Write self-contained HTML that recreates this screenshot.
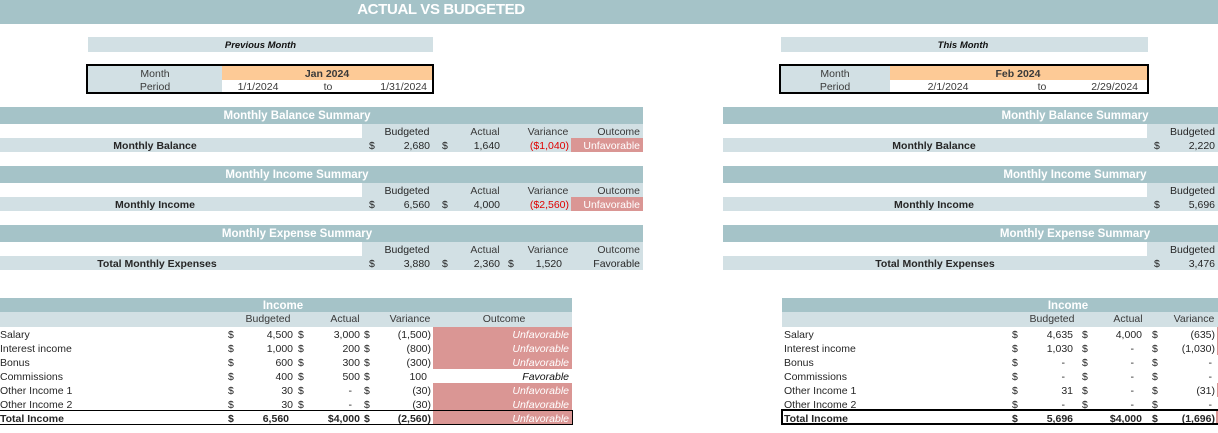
<!DOCTYPE html>
<html><head><meta charset="utf-8">
<style>
*{margin:0;padding:0;box-sizing:border-box}
body{width:1218px;height:433px;overflow:hidden;background:#fff;position:relative;font-family:"Liberation Sans",Arial,sans-serif;font-size:10.5px;color:#262626}
.a{position:absolute;white-space:nowrap}
.bn{background:#A5C3C8}
.lb{background:#D2E0E4}
.or{background:#FDCA96}
.pk{background:#DA9694}
.hd{color:#fff;font-weight:bold;font-size:11.5px;text-align:center;margin-top:1px}
.r{text-align:right}
.c{text-align:center}
.b{font-weight:bold}
.h14{line-height:14px;margin-top:1px}
.m1{margin-top:1px}
.uf{color:#fff;font-style:italic}
.red{color:#e00000}
.g{color:#3a3a3a}
</style></head><body>

<!-- Title banner -->
<div class="a bn" style="left:0;top:0;width:1218px;height:24px"></div>
<div class="a hd" style="left:241px;top:0;width:400px;line-height:24px;font-size:15px;letter-spacing:-0.35px;margin-top:-2px">ACTUAL VS BUDGETED</div>

<!-- Previous month -->
<div class="a lb" style="left:88px;top:37px;width:345px;height:15px"></div>
<div class="a c m1" style="left:88px;top:37px;width:345px;line-height:15px;font-weight:bold;font-style:italic;font-size:9.5px;color:#111">Previous Month</div>
<div class="a lb" style="left:88px;top:66px;width:134px;height:26px"></div>
<div class="a or" style="left:222px;top:66px;width:210px;height:14px"></div>
<div class="a" style="left:86px;top:64px;width:348px;height:30px;border:2px solid #000"></div>
<div class="a c g m1" style="left:88px;top:66px;width:134px;line-height:14px">Month</div>
<div class="a c g m1" style="left:88px;top:80px;width:134px;line-height:12px">Period</div>
<div class="a c b g m1" style="left:222px;top:66px;width:210px;line-height:14px">Jan 2024</div>
<div class="a c g m1" style="left:218px;top:80px;width:80px;line-height:13px">1/1/2024</div>
<div class="a c g m1" style="left:308px;top:80px;width:40px;line-height:13px">to</div>
<div class="a r g m1" style="left:355px;top:80px;width:72px;line-height:13px">1/31/2024</div>

<!-- This month -->
<div class="a lb" style="left:781px;top:37px;width:367px;height:15px"></div>
<div class="a c m1" style="left:781px;top:37px;width:364px;line-height:15px;font-weight:bold;font-style:italic;font-size:9.5px;color:#111">This Month</div>
<div class="a lb" style="left:781px;top:66px;width:109px;height:26px"></div>
<div class="a or" style="left:890px;top:66px;width:257px;height:14px"></div>
<div class="a" style="left:779px;top:64px;width:370px;height:30px;border:2px solid #000"></div>
<div class="a c g m1" style="left:785px;top:66px;width:100px;line-height:14px">Month</div>
<div class="a c g m1" style="left:785px;top:80px;width:100px;line-height:12px">Period</div>
<div class="a c b g m1" style="left:918px;top:66px;width:200px;line-height:14px">Feb 2024</div>
<div class="a c g m1" style="left:908px;top:80px;width:80px;line-height:13px">2/1/2024</div>
<div class="a c g m1" style="left:1022px;top:80px;width:40px;line-height:13px">to</div>
<div class="a r g m1" style="left:1066px;top:80px;width:72px;line-height:13px">2/29/2024</div>

<!-- LEFT SUMMARY: Balance (T=107) -->
<div class="a bn" style="left:0;top:107px;width:643px;height:17px"></div>
<div class="a hd" style="left:0;top:107px;width:594px;line-height:17px">Monthly Balance Summary</div>
<div class="a lb" style="left:362px;top:124px;width:281px;height:14px"></div>
<div class="a c h14" style="left:377px;top:124px;width:60px">Budgeted</div>
<div class="a c h14 g" style="left:455px;top:124px;width:60px">Actual</div>
<div class="a c h14 g" style="left:518px;top:124px;width:60px">Variance</div>
<div class="a r h14 g" style="left:580px;top:124px;width:60px">Outcome</div>
<div class="a lb" style="left:0;top:138px;width:643px;height:14px"></div>
<div class="a c b h14" style="left:55px;top:138px;width:200px">Monthly Balance</div>
<div class="a h14" style="left:369px;top:138px">$</div>
<div class="a r h14" style="left:380px;top:138px;width:50px">2,680</div>
<div class="a h14" style="left:442px;top:138px">$</div>
<div class="a r h14" style="left:450px;top:138px;width:50px">1,640</div>
<div class="a r h14 red" style="left:505px;top:138px;width:64px">($1,040)</div>
<div class="a pk" style="left:571px;top:138px;width:72px;height:14px"></div>
<div class="a r h14" style="left:571px;top:138px;width:69px;color:#fff">Unfavorable</div>

<!-- LEFT SUMMARY: Income (T=166) -->
<div class="a bn" style="left:0;top:166px;width:643px;height:17px"></div>
<div class="a hd" style="left:0;top:166px;width:594px;line-height:17px">Monthly Income Summary</div>
<div class="a lb" style="left:362px;top:183px;width:281px;height:14px"></div>
<div class="a c h14" style="left:377px;top:183px;width:60px">Budgeted</div>
<div class="a c h14 g" style="left:455px;top:183px;width:60px">Actual</div>
<div class="a c h14 g" style="left:518px;top:183px;width:60px">Variance</div>
<div class="a r h14 g" style="left:580px;top:183px;width:60px">Outcome</div>
<div class="a lb" style="left:0;top:197px;width:643px;height:14px"></div>
<div class="a c b h14" style="left:55px;top:197px;width:200px">Monthly Income</div>
<div class="a h14" style="left:369px;top:197px">$</div>
<div class="a r h14" style="left:380px;top:197px;width:50px">6,560</div>
<div class="a h14" style="left:442px;top:197px">$</div>
<div class="a r h14" style="left:450px;top:197px;width:50px">4,000</div>
<div class="a r h14 red" style="left:505px;top:197px;width:64px">($2,560)</div>
<div class="a pk" style="left:571px;top:197px;width:72px;height:14px"></div>
<div class="a r h14" style="left:571px;top:197px;width:69px;color:#fff">Unfavorable</div>

<!-- LEFT SUMMARY: Expense (T=225) -->
<div class="a bn" style="left:0;top:225px;width:643px;height:17px"></div>
<div class="a hd" style="left:0;top:225px;width:594px;line-height:17px">Monthly Expense Summary</div>
<div class="a lb" style="left:362px;top:242px;width:281px;height:14px"></div>
<div class="a c h14" style="left:377px;top:242px;width:60px">Budgeted</div>
<div class="a c h14 g" style="left:455px;top:242px;width:60px">Actual</div>
<div class="a c h14 g" style="left:518px;top:242px;width:60px">Variance</div>
<div class="a r h14 g" style="left:580px;top:242px;width:60px">Outcome</div>
<div class="a lb" style="left:0;top:256px;width:643px;height:14px"></div>
<div class="a c b h14" style="left:57px;top:256px;width:200px">Total Monthly Expenses</div>
<div class="a h14" style="left:369px;top:256px">$</div>
<div class="a r h14" style="left:380px;top:256px;width:50px">3,880</div>
<div class="a h14" style="left:442px;top:256px">$</div>
<div class="a r h14" style="left:450px;top:256px;width:50px">2,360</div>
<div class="a h14" style="left:508px;top:256px">$</div>
<div class="a r h14" style="left:515px;top:256px;width:47px">1,520</div>
<div class="a r h14" style="left:571px;top:256px;width:69px">Favorable</div>

<!-- RIGHT SUMMARY: Balance -->
<div class="a bn" style="left:723px;top:107px;width:495px;height:17px"></div>
<div class="a hd" style="left:975px;top:107px;width:200px;line-height:17px">Monthly Balance Summary</div>
<div class="a lb" style="left:1147px;top:124px;width:71px;height:14px"></div>
<div class="a r h14" style="left:1150px;top:124px;width:65px">Budgeted</div>
<div class="a lb" style="left:723px;top:138px;width:495px;height:14px"></div>
<div class="a c b h14" style="left:834px;top:138px;width:200px">Monthly Balance</div>
<div class="a h14" style="left:1154px;top:138px">$</div>
<div class="a r h14" style="left:1160px;top:138px;width:55px">2,220</div>

<!-- RIGHT SUMMARY: Income -->
<div class="a bn" style="left:723px;top:166px;width:495px;height:17px"></div>
<div class="a hd" style="left:975px;top:166px;width:200px;line-height:17px">Monthly Income Summary</div>
<div class="a lb" style="left:1147px;top:183px;width:71px;height:14px"></div>
<div class="a r h14" style="left:1150px;top:183px;width:65px">Budgeted</div>
<div class="a lb" style="left:723px;top:197px;width:495px;height:14px"></div>
<div class="a c b h14" style="left:834px;top:197px;width:200px">Monthly Income</div>
<div class="a h14" style="left:1154px;top:197px">$</div>
<div class="a r h14" style="left:1160px;top:197px;width:55px">5,696</div>

<!-- RIGHT SUMMARY: Expense -->
<div class="a bn" style="left:723px;top:225px;width:495px;height:17px"></div>
<div class="a hd" style="left:975px;top:225px;width:200px;line-height:17px">Monthly Expense Summary</div>
<div class="a lb" style="left:1147px;top:242px;width:71px;height:14px"></div>
<div class="a r h14" style="left:1150px;top:242px;width:65px">Budgeted</div>
<div class="a lb" style="left:723px;top:256px;width:495px;height:14px"></div>
<div class="a c b h14" style="left:835px;top:256px;width:200px">Total Monthly Expenses</div>
<div class="a h14" style="left:1154px;top:256px">$</div>
<div class="a r h14" style="left:1160px;top:256px;width:55px">3,476</div>

<!-- LEFT INCOME TABLE -->
<div class="a bn" style="left:0;top:298px;width:572px;height:14px"></div>
<div class="a hd" style="left:183px;top:298px;width:200px;line-height:14px">Income</div>
<div class="a lb" style="left:0;top:312px;width:572px;height:15px"></div>
<div class="a c g" style="left:238px;top:312px;width:60px;line-height:15px">Budgeted</div>
<div class="a c g" style="left:315px;top:312px;width:60px;line-height:15px">Actual</div>
<div class="a c g" style="left:380px;top:312px;width:60px;line-height:15px">Variance</div>
<div class="a c g" style="left:454px;top:312px;width:100px;line-height:15px">Outcome</div>

<!-- pink outcome cells -->
<div class="a pk" style="left:433px;top:327px;width:139px;height:42px"></div>
<div class="a pk" style="left:433px;top:383px;width:139px;height:42px"></div>

<!-- Row: Salary -->
<div class="a h14" style="left:0;top:327px">Salary</div>
<div class="a h14" style="left:228px;top:327px">$</div>
<div class="a r h14" style="left:243px;top:327px;width:50px">4,500</div>
<div class="a h14" style="left:298px;top:327px">$</div>
<div class="a r h14" style="left:310px;top:327px;width:50px">3,000</div>
<div class="a h14" style="left:364px;top:327px">$</div>
<div class="a r h14" style="left:375px;top:327px;width:56px">(1,500)</div>
<div class="a r h14 uf" style="left:433px;top:327px;width:136px">Unfavorable</div>
<!-- Interest -->
<div class="a h14" style="left:0;top:341px">Interest income</div>
<div class="a h14" style="left:228px;top:341px">$</div>
<div class="a r h14" style="left:243px;top:341px;width:50px">1,000</div>
<div class="a h14" style="left:298px;top:341px">$</div>
<div class="a r h14" style="left:310px;top:341px;width:50px">200</div>
<div class="a h14" style="left:364px;top:341px">$</div>
<div class="a r h14" style="left:375px;top:341px;width:56px">(800)</div>
<div class="a r h14 uf" style="left:433px;top:341px;width:136px">Unfavorable</div>
<!-- Bonus -->
<div class="a h14" style="left:0;top:355px">Bonus</div>
<div class="a h14" style="left:228px;top:355px">$</div>
<div class="a r h14" style="left:243px;top:355px;width:50px">600</div>
<div class="a h14" style="left:298px;top:355px">$</div>
<div class="a r h14" style="left:310px;top:355px;width:50px">300</div>
<div class="a h14" style="left:364px;top:355px">$</div>
<div class="a r h14" style="left:375px;top:355px;width:56px">(300)</div>
<div class="a r h14 uf" style="left:433px;top:355px;width:136px">Unfavorable</div>
<!-- Commissions -->
<div class="a h14" style="left:0;top:369px">Commissions</div>
<div class="a h14" style="left:228px;top:369px">$</div>
<div class="a r h14" style="left:243px;top:369px;width:50px">400</div>
<div class="a h14" style="left:298px;top:369px">$</div>
<div class="a r h14" style="left:310px;top:369px;width:50px">500</div>
<div class="a h14" style="left:364px;top:369px">$</div>
<div class="a r h14" style="left:375px;top:369px;width:52px">100</div>
<div class="a r h14" style="left:433px;top:369px;width:136px;font-style:italic;color:#111">Favorable</div>
<!-- Other Income 1 -->
<div class="a h14" style="left:0;top:383px">Other Income 1</div>
<div class="a h14" style="left:228px;top:383px">$</div>
<div class="a r h14" style="left:243px;top:383px;width:50px">30</div>
<div class="a h14" style="left:298px;top:383px">$</div>
<div class="a r h14" style="left:310px;top:383px;width:42px">-</div>
<div class="a h14" style="left:364px;top:383px">$</div>
<div class="a r h14" style="left:375px;top:383px;width:56px">(30)</div>
<div class="a r h14 uf" style="left:433px;top:383px;width:136px">Unfavorable</div>
<!-- Other Income 2 -->
<div class="a h14" style="left:0;top:397px">Other Income 2</div>
<div class="a h14" style="left:228px;top:397px">$</div>
<div class="a r h14" style="left:243px;top:397px;width:50px">30</div>
<div class="a h14" style="left:298px;top:397px">$</div>
<div class="a r h14" style="left:310px;top:397px;width:42px">-</div>
<div class="a h14" style="left:364px;top:397px">$</div>
<div class="a r h14" style="left:375px;top:397px;width:56px">(30)</div>
<div class="a r h14 uf" style="left:433px;top:397px;width:136px">Unfavorable</div>
<!-- Total -->
<div class="a b h14" style="left:0;top:411px">Total Income</div>
<div class="a b h14" style="left:228px;top:411px">$</div>
<div class="a r b h14" style="left:239px;top:411px;width:50px">6,560</div>
<div class="a r b h14" style="left:300px;top:411px;width:60px">$4,000</div>
<div class="a b h14" style="left:364px;top:411px">$</div>
<div class="a r b h14" style="left:375px;top:411px;width:56px">(2,560)</div>
<div class="a r h14 uf" style="left:433px;top:411px;width:136px">Unfavorable</div>
<div class="a" style="left:-1px;top:410px;width:574px;height:15px;border:1px solid #000"></div>

<!-- RIGHT INCOME TABLE -->
<div class="a bn" style="left:782px;top:298px;width:436px;height:14px"></div>
<div class="a hd" style="left:968px;top:298px;width:200px;line-height:14px">Income</div>
<div class="a lb" style="left:782px;top:312px;width:436px;height:15px"></div>
<div class="a c g" style="left:1022px;top:312px;width:60px;line-height:15px">Budgeted</div>
<div class="a c g" style="left:1098px;top:312px;width:60px;line-height:15px">Actual</div>
<div class="a c g" style="left:1164px;top:312px;width:60px;line-height:15px">Variance</div>

<!-- pink strips at right edge -->
<div class="a pk" style="left:1217px;top:327px;width:1px;height:28px"></div>
<div class="a pk" style="left:1217px;top:383px;width:1px;height:14px"></div>
<div class="a pk" style="left:1216px;top:411px;width:2px;height:13px"></div>

<!-- Salary -->
<div class="a h14" style="left:784px;top:327px">Salary</div>
<div class="a h14" style="left:1012px;top:327px">$</div>
<div class="a r h14" style="left:1023px;top:327px;width:50px">4,635</div>
<div class="a h14" style="left:1082px;top:327px">$</div>
<div class="a r h14" style="left:1092px;top:327px;width:50px">4,000</div>
<div class="a h14" style="left:1152px;top:327px">$</div>
<div class="a r h14" style="left:1160px;top:327px;width:55px">(635)</div>
<!-- Interest -->
<div class="a h14" style="left:784px;top:341px">Interest income</div>
<div class="a h14" style="left:1012px;top:341px">$</div>
<div class="a r h14" style="left:1023px;top:341px;width:50px">1,030</div>
<div class="a h14" style="left:1082px;top:341px">$</div>
<div class="a r h14" style="left:1092px;top:341px;width:42px">-</div>
<div class="a h14" style="left:1152px;top:341px">$</div>
<div class="a r h14" style="left:1160px;top:341px;width:55px">(1,030)</div>
<!-- Bonus -->
<div class="a h14" style="left:784px;top:355px">Bonus</div>
<div class="a h14" style="left:1012px;top:355px">$</div>
<div class="a r h14" style="left:1023px;top:355px;width:42px">-</div>
<div class="a h14" style="left:1082px;top:355px">$</div>
<div class="a r h14" style="left:1092px;top:355px;width:42px">-</div>
<div class="a h14" style="left:1152px;top:355px">$</div>
<div class="a r h14" style="left:1160px;top:355px;width:52px">-</div>
<!-- Commissions -->
<div class="a h14" style="left:784px;top:369px">Commissions</div>
<div class="a h14" style="left:1012px;top:369px">$</div>
<div class="a r h14" style="left:1023px;top:369px;width:42px">-</div>
<div class="a h14" style="left:1082px;top:369px">$</div>
<div class="a r h14" style="left:1092px;top:369px;width:42px">-</div>
<div class="a h14" style="left:1152px;top:369px">$</div>
<div class="a r h14" style="left:1160px;top:369px;width:52px">-</div>
<!-- Other Income 1 -->
<div class="a h14" style="left:784px;top:383px">Other Income 1</div>
<div class="a h14" style="left:1012px;top:383px">$</div>
<div class="a r h14" style="left:1023px;top:383px;width:50px">31</div>
<div class="a h14" style="left:1082px;top:383px">$</div>
<div class="a r h14" style="left:1092px;top:383px;width:42px">-</div>
<div class="a h14" style="left:1152px;top:383px">$</div>
<div class="a r h14" style="left:1160px;top:383px;width:55px">(31)</div>
<!-- Other Income 2 -->
<div class="a h14" style="left:784px;top:397px">Other Income 2</div>
<div class="a h14" style="left:1012px;top:397px">$</div>
<div class="a r h14" style="left:1023px;top:397px;width:42px">-</div>
<div class="a h14" style="left:1082px;top:397px">$</div>
<div class="a r h14" style="left:1092px;top:397px;width:42px">-</div>
<div class="a h14" style="left:1152px;top:397px">$</div>
<div class="a r h14" style="left:1160px;top:397px;width:52px">-</div>
<!-- Total -->
<div class="a b h14" style="left:784px;top:411px">Total Income</div>
<div class="a b h14" style="left:1012px;top:411px">$</div>
<div class="a r b h14" style="left:1023px;top:411px;width:50px">5,696</div>
<div class="a r b h14" style="left:1082px;top:411px;width:60px">$4,000</div>
<div class="a b h14" style="left:1152px;top:411px">$</div>
<div class="a r b h14" style="left:1160px;top:411px;width:55px">(1,696)</div>
<div class="a" style="left:781px;top:409px;width:460px;height:16px;border:2px solid #000"></div>

</body></html>
